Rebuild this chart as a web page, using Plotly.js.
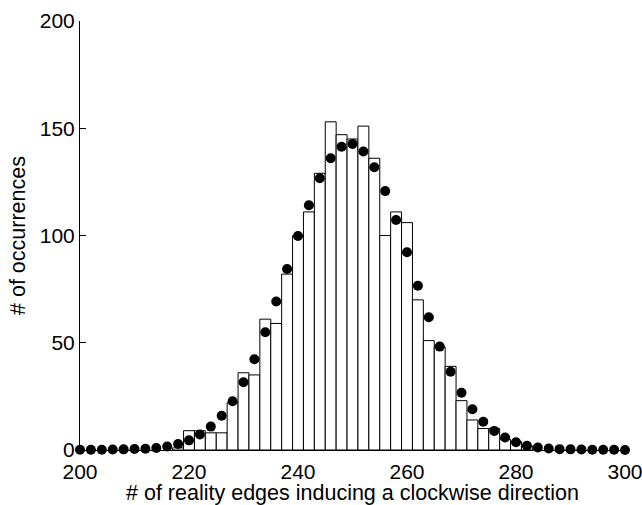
<!DOCTYPE html>
<html>
<head>
<meta charset="utf-8">
<script src="https://cdn.plot.ly/plotly-3.0.1.min.js"></script>
<style>html,body{margin:0;padding:0;background:#fff;}#chart{width:642px;height:505px;}</style>
</head>
<body>
<div id="chart"></div>
<script>
// Histogram bars (bin centers, counts)
const barCenters = [218,220,222,224,226,228,230,232,234,236,238,240,242,244,246,248,250,252,254,256,258,260,262,264,266,268,270,272,274,276,278,280,282];
const barCounts  = [1,9,9,8,8,22,36,35,61,59,82,100,111,129,153,147,145,151,136,100,111,106,70,51,48,39,23,14,10,10,5,4,2];

// Expected values (dots)
const dotX = [200,202,204,206,208,210,212,214,216,218,220,222,224,226,228,230,232,234,236,238,240,242,244,246,248,250,252,254,256,258,260,262,264,266,268,270,272,274,276,278,280,282,284,286,288,290,292,294,296,298,300];
const dotY = [0.1,0.1,0.1,0.2,0.3,0.5,0.6,0.9,1.6,2.8,4.5,7.2,10.9,16,22.7,31.6,42.3,54.9,69.2,84.4,99.8,114.1,126.7,136,141.4,142.7,139.2,131.8,120.7,107.2,92.2,76.6,61.9,48.2,36.5,26.7,19,13.2,8.9,5.8,3.6,2.0,1.2,0.7,0.4,0.3,0.2,0.1,0.1,0.1,0];

const xTicks = [200,220,240,260,280,300];
const yTicks = [0,50,100,150,200];

const tickFont = {family: 'Liberation Sans, Arial, sans-serif', size: 21, color: '#000'};
const titleFont = {family: 'Liberation Sans, Arial, sans-serif', size: 21.5, color: '#000'};

const traces = [
  {
    type: 'bar', x: barCenters, y: barCounts,
    marker: {color: '#fff', line: {color: '#000', width: 1}},
    hoverinfo: 'skip', cliponaxis: false
  },
  {
    type: 'scatter', mode: 'markers', x: dotX, y: dotY,
    marker: {color: '#000', size: 10},
    cliponaxis: false, hoverinfo: 'skip'
  }
];

const layout = {
  width: 642, height: 505,
  margin: {l: 80, r: 17, t: 21, b: 55},
  paper_bgcolor: '#fff', plot_bgcolor: '#fff',
  showlegend: false, bargap: 0,
  font: tickFont,
  xaxis: {
    range: [200, 300], tickvals: xTicks, ticktext: xTicks.map(String),
    showgrid: false, zeroline: false, showline: true, linecolor: '#000', linewidth: 1,
    ticks: '', tickfont: tickFont, ticklabelstandoff: 3, ticklabeloverflow: 'allow',
    title: {text: '# of reality edges inducing a clockwise direction', font: titleFont, standoff: 0}
  },
  yaxis: {
    range: [0, 200], tickvals: yTicks, ticktext: yTicks.map(String),
    showgrid: false, zeroline: false, showline: true, linecolor: '#000', linewidth: 1,
    ticks: 'inside', ticklen: 6, tickcolor: '#000', tickfont: tickFont,
    title: {text: '# of occurrences', font: titleFont, standoff: 8}
  }
};

Plotly.newPlot('chart', traces, layout, {displayModeBar: false, staticPlot: true});
</script>
</body>
</html>
